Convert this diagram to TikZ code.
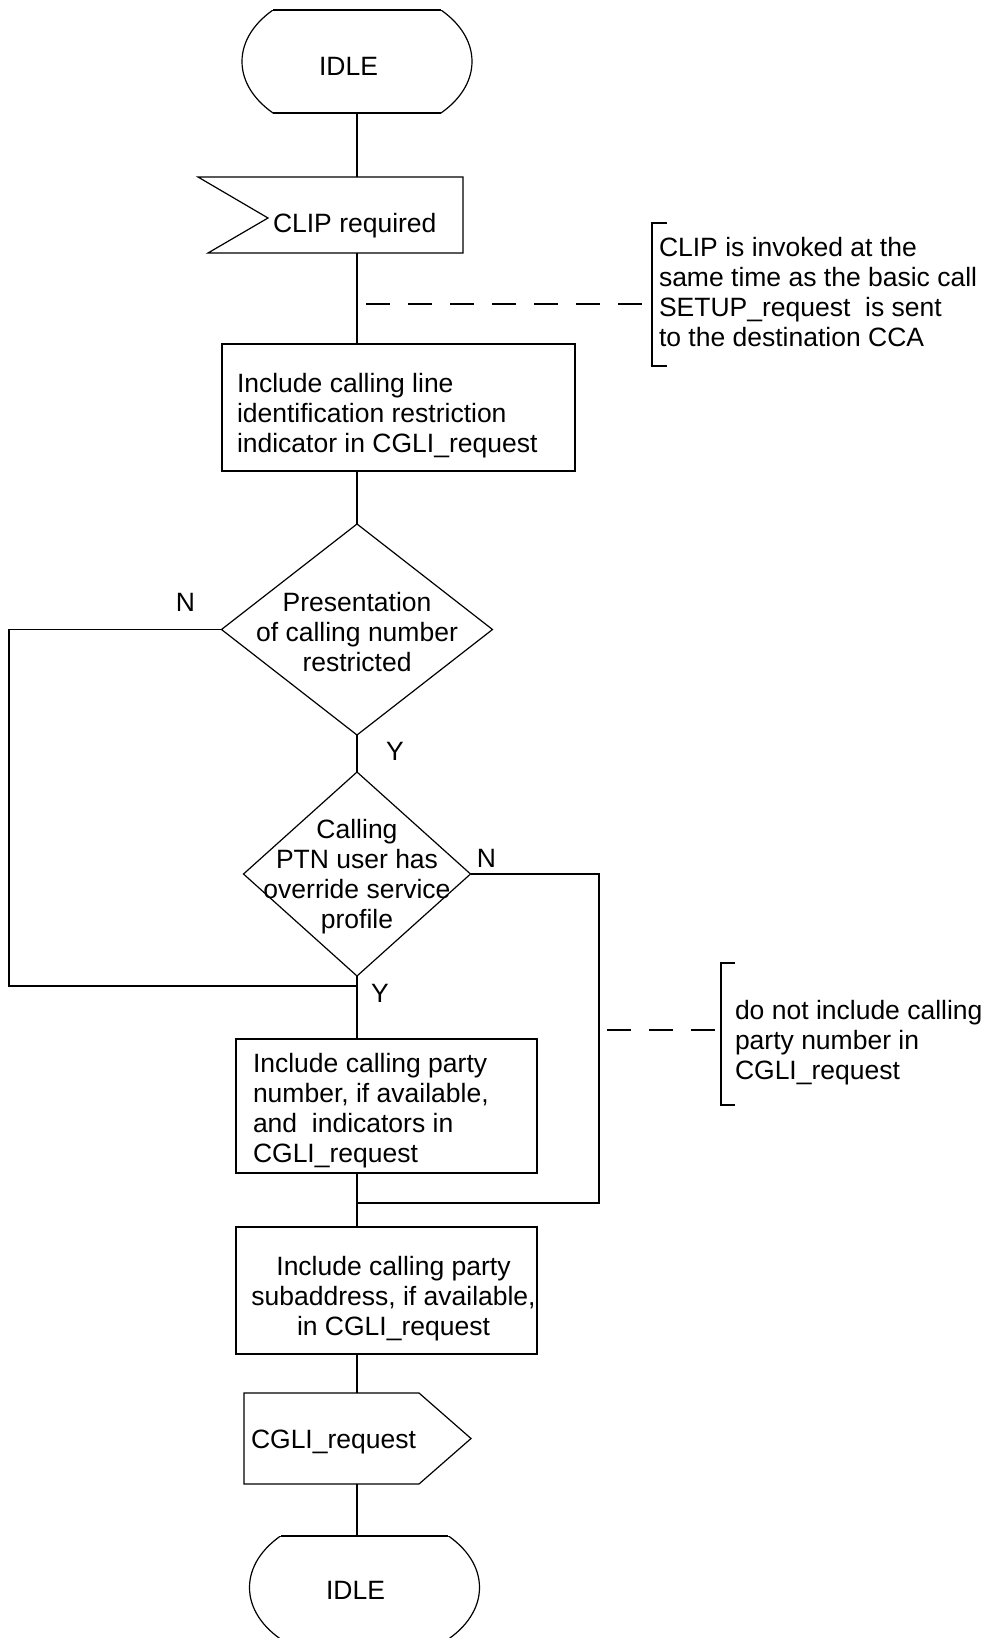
\documentclass[tikz,border=0pt]{standalone}
\usepackage{fontspec}
\setmainfont{Liberation Sans}
\usetikzlibrary{shapes.geometric}
\begin{document}
\begin{tikzpicture}[x=1pt, y=-1pt, line width=1.2pt,
  every node/.style={inner sep=0pt, outer sep=0pt},
  txt/.style={font=\fontsize{26.5pt}{30pt}\selectfont},
  frame/.style={draw, rectangle},
  hook/.style={rectangle},
  decision/.style={draw, diamond},
  comment/.style={dash pattern=on 24pt off 18pt}]
\useasboundingbox (0,0) rectangle (988,1638);
\clip (0,0) rectangle (988,1638);

% ---- start state: an ellipse cut by two horizontal lines
\node[hook, minimum width=230pt, minimum height=103pt] (idle1) at (357,61.5) {};
\begin{scope}
  \clip (200,10) rectangle (520,113);
  \draw (idle1.center) ellipse [x radius=115pt, y radius=75.4pt];
\end{scope}
\draw (273,10) -- (441,10);
\draw (273,113) -- (441,113);
\node[txt, anchor=base] (idle1t) at (348.5,75) {IDLE};

% ---- input signal
\node[hook, minimum width=265pt, minimum height=76pt] (clip) at (330.5,215) {};
\draw (198,177) -- (463,177) -- (463,253) -- (208,253) -- (268,218) -- cycle;
\node[txt, anchor=base west] (clipt) at (273,232) {CLIP required};

% ---- task 1
\node[frame, minimum width=353pt, minimum height=127pt] (b1) at (398.5,407.5) {};
\node[txt, anchor=base west] (b1a) at (237,392) {Include calling line};
\node[txt, anchor=base west] (b1b) at (237,422) {identification restriction};
\node[txt, anchor=base west] (b1c) at (237,452) {indicator in CGLI\_request};

% ---- comment 1
\coordinate (n1s) at (366,304);
\node[hook, minimum width=15pt, minimum height=143pt] (br1) at (659.5,294.5) {};
\draw (br1.north east) -- (br1.north west) -- (br1.south west) -- (br1.south east);
\draw[comment, shorten >=7pt] (n1s) -- (n1s -| br1.west);
\node[txt, anchor=base west] (n1a) at (659,256) {CLIP is invoked at the};
\node[txt, anchor=base west] (n1b) at (659,286) {same time as the basic call};
\node[txt, anchor=base west] (n1c) at (659,316) {SETUP\_request~ is sent};
\node[txt, anchor=base west] (n1d) at (659,346) {to the destination CCA};

% ---- decision 1
\node[decision, minimum width=271pt, minimum height=211pt] (d1) at (357,629.5) {};
\node[txt, anchor=base] (d1a) at (357,611) {Presentation};
\node[txt, anchor=base] (d1b) at (357,641) {of calling number};
\node[txt, anchor=base] (d1c) at (357,671) {restricted};
\node[txt, anchor=base] (d1n) at (185.5,611) {N};
\node[txt, anchor=base] (d1y) at (395,760) {Y};

% ---- decision 2
\node[decision, minimum width=227pt, minimum height=204pt] (d2) at (357,874) {};
\node[txt, anchor=base] (d2a) at (357,838) {Calling};
\node[txt, anchor=base] (d2b) at (357,868) {PTN user has};
\node[txt, anchor=base] (d2c) at (357,898) {override service};
\node[txt, anchor=base] (d2d) at (357,928) {profile};
\node[txt, anchor=base] (d2n) at (486.5,867) {N};
\node[txt, anchor=base] (d2y) at (380,1002) {Y};

% ---- task 2
\node[frame, minimum width=301pt, minimum height=134pt] (b2) at (386.5,1106) {};
\node[txt, anchor=base west] (b2a) at (253,1072) {Include calling party};
\node[txt, anchor=base west] (b2b) at (253,1102) {number, if available,};
\node[txt, anchor=base west] (b2c) at (253,1132) {and~ indicators in};
\node[txt, anchor=base west] (b2d) at (253,1162) {CGLI\_request};

% ---- comment 2
\coordinate (n2s) at (607,1030);
\node[hook, minimum width=14pt, minimum height=142pt] (br2) at (728,1034) {};
\draw (br2.north east) -- (br2.north west) -- (br2.south west) -- (br2.south east);
\draw[comment, shorten >=4pt] (n2s) -- (n2s -| br2.west);
\node[txt, anchor=base west] (n2a) at (735,1019) {do not include calling};
\node[txt, anchor=base west] (n2b) at (735,1049) {party number in};
\node[txt, anchor=base west] (n2c) at (735,1079) {CGLI\_request};

% ---- task 3
\node[frame, minimum width=301pt, minimum height=127pt] (b3) at (386.5,1290.5) {};
\node[txt, anchor=base] (b3a) at (393.5,1275) {Include calling party};
\node[txt, anchor=base] (b3b) at (393.5,1305) {subaddress, if available,};
\node[txt, anchor=base] (b3c) at (393.5,1335) {in CGLI\_request};

% ---- output signal
\node[hook, minimum width=227pt, minimum height=91pt] (out) at (357,1438.5) {};
\draw (244,1393) -- (419,1393) -- (471,1438.5) -- (419,1484) -- (244,1484) -- cycle;
\node[txt, anchor=base west] (outt) at (251,1448) {CGLI\_request};

% ---- end state
\node[hook, minimum width=230pt, minimum height=103pt] (idle2) at (364.5,1587.5) {};
\begin{scope}
  \clip (200,1536) rectangle (540,1639);
  \draw (idle2.center) ellipse [x radius=115pt, y radius=75.4pt];
\end{scope}
\draw (281,1536) -- (448,1536);
\draw (281,1639) -- (448,1639);
\node[txt, anchor=base] (idle2t) at (355.5,1599) {IDLE};

% ---- flow lines
\draw (idle1.south) -- (idle1.south |- clip.north);
\draw (idle1.south |- clip.south) -- (idle1.south |- b1.north);
\draw (d1.north |- b1.south) -- (d1.north);
\draw (d1.south) -- (d2.north);
\draw (d2.south) -- (d2.south |- b2.north);
\draw (d2.south |- b2.south) -- (d2.south |- b3.north);
\draw (out.north |- b3.south) -- (out.north);
\draw (out.south) -- (out.south |- idle2.north);

% ---- branch joins
\coordinate (nl) at (9,986);
\draw (d1.west) -| (nl) -- (nl -| d2.south);
\coordinate (nr) at (599,1203);
\draw (d2.east) -| (nr) -- (nr -| d2.south);
\end{tikzpicture}
\end{document}
